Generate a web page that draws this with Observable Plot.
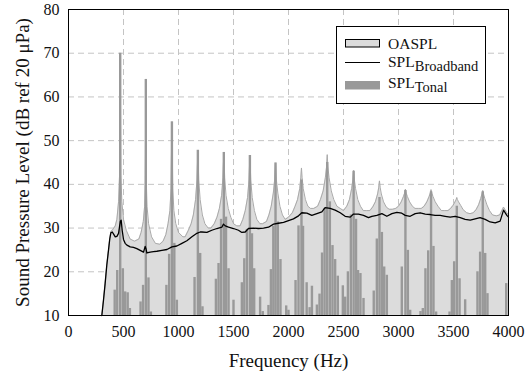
<!DOCTYPE html>
<html><head><meta charset="utf-8">
<script src="https://cdn.jsdelivr.net/npm/d3@7"></script>
<script src="https://cdn.jsdelivr.net/npm/@observablehq/plot@0.6"></script>
<style>body{margin:0;background:#fff} #chart{width:532px;height:377px}</style>
</head><body><div id="chart"></div>
<script>
const xTicks = [0, 500, 1000, 1500, 2000, 2500, 3000, 3500, 4000];
const yTicks = [10, 20, 30, 40, 50, 60, 70, 80];
const xGrid = [500, 1000, 1500, 2000, 2500, 3000, 3500];
const yGrid = [20, 30, 40, 50, 60, 70];

const broadbandFreq = [303,318,333,348,364,375,385,398,410,425,440,455,465,472,479,488,500,515,531,561,591,621,652,682,697,705,713,743,773,803,849,895,940,985,1031,1076,1122,1167,1197,1213,1258,1303,1349,1394,1409,1425,1455,1500,1545,1576,1606,1636,1682,1727,1773,1818,1864,1909,1955,2000,2045,2091,2121,2167,2212,2258,2303,2333,2379,2424,2470,2515,2561,2591,2636,2682,2727,2758,2803,2849,2894,2940,2985,3030,3061,3106,3152,3197,3243,3288,3333,3379,3424,3470,3515,3561,3606,3652,3697,3742,3788,3833,3879,3924,3955,3985,4000];
const broadbandLevel = [10,13.5,17.3,21.5,25,27.5,28.9,29.1,28.6,28.0,28.1,28.8,30.5,31.6,31.8,29.5,27.4,26.5,26.1,25.7,25.6,25.3,24.9,24.5,25.8,25.2,24.3,24.5,24.6,24.7,24.9,25.1,25.7,25.9,26.5,27.1,28,28.8,29.1,29.1,29,29.5,29.9,30.2,30.9,30.5,30.2,29.9,29.5,29,29.1,29.9,30,29.9,30,30.2,30.9,31.1,31.3,31.7,32.1,32.8,33.5,33.4,32.9,33.3,33.7,34.7,34.5,34.1,33.5,32.7,32.5,33.2,33.2,32.9,32.4,32.7,32.9,33.3,32.7,33.3,33.6,33.4,32.9,32.7,33.3,33.5,33.2,33.1,32.9,32.9,32.7,32.5,32.7,32.4,32,31.8,32.1,32.4,32,31.4,31.2,31.6,34.1,32.9,32.5];

const oasplFreq = [303,318,333,348,364,375,385,400,425,440,455,464,470,476,485,500,525,560,600,640,660,680,692,698,703,708,714,728,755,790,830,860,885,905,922,932,940,948,958,975,1000,1040,1060,1090,1115,1135,1155,1168,1176,1184,1197,1217,1240,1270,1295,1325,1350,1372,1392,1404,1412,1420,1432,1452,1475,1500,1530,1560,1585,1607,1628,1641,1649,1657,1670,1690,1712,1740,1765,1800,1822,1843,1862,1874,1882,1890,1903,1922,1945,1970,2000,2035,2060,2082,2102,2112,2118,2124,2134,2154,2176,2200,2230,2265,2290,2315,2335,2346,2352,2358,2369,2389,2412,2440,2470,2500,2530,2554,2574,2585,2592,2599,2610,2630,2654,2680,2710,2740,2765,2790,2810,2820,2827,2834,2844,2864,2889,2915,2945,2975,3000,3025,3045,3056,3063,3070,3081,3101,3126,3150,3180,3208,3233,3258,3278,3289,3296,3303,3314,3334,3359,3390,3420,3450,3474,3496,3514,3524,3530,3536,3546,3565,3588,3620,3650,3680,3705,3728,3748,3759,3766,3773,3784,3804,3827,3855,3890,3920,3955,3985,4000];
const oasplLevel = [10,13.5,17.3,21.5,25,27.6,29.2,29.6,30.5,32,36,42,70,42,36,32,29.5,27.5,27,27.5,29,31.5,35,40,64,40,35,31,28,26.5,26.3,27,28.5,31,34,39,54.3,39,34,31,29,28,28,29.5,31,33,36.5,41,47.8,41,36.5,33,31,30,30,31,32.5,34.5,37.5,41.5,47.3,41.5,37.5,34.5,32.5,31,30.5,30.5,32,34,37,41,46.6,41,37,34,32,31,31,31.5,33,35,38,41,44.9,41,38,35,33,32,32.5,33.5,35,36.5,39,41.5,43.75,41.5,39,36.5,35,34.5,34.5,35,36.5,38.5,41.5,44,46.8,44,41.5,38.5,36.5,35,34.5,34,35,36.5,39,41,43.2,41,39,36.5,35,34,34,34,34.8,36,37.8,39.2,40.8,39.2,37.8,36,34.8,34.3,34.3,34.5,35,36,37.2,38,38.9,38,37.2,36,35,34.5,34.5,34.5,35,36,37.2,38,38.8,38,37.2,36,35,34,34,34,34.5,35.2,36,36.5,37,36.5,36,35.2,34.2,33.5,33.3,33.5,34.2,35.3,36.8,37.8,38.6,37.8,36.8,35.3,34,33,32.8,33,34.8,33.5,33];

const tonalFreq = [420,443,470,494,515,538,558, 655,678,703,727,749, 890,915,940,962,985, 1146,1176,1197,1218, 1340,1364,1387,1412,1432,1455,1500, 1576,1598,1622,1649,1668,1688,1742,1766, 1818,1840,1862,1882,1903,1927,1979,2000, 2064,2091,2118,2132,2165,2192,2213, 2258,2282,2305,2328,2352,2376,2400,2424,2448,2494,2515, 2540,2567,2592,2614,2632,2654,2682, 2775,2803,2827,2849,2870,2894, 3030,3063,3085,3106, 3200,3221,3245,3270,3296,3318,3342, 3464,3485,3506,3530,3555,3606, 3718,3742,3766,3788,3809, 3979];
const tonalLevel = [15.8,20.3,70,20.7,15.4,15.2,11.6, 13.1,16.9,64,18.6,10.8, 16.9,24,54.3,26.5,13.5, 18.7,47.8,24.2,12, 18.3,21.9,32,47.3,32.5,20.7,13.5, 17.5,23,29.7,46.6,28.7,20.7,14.2,10.9, 12.3,20.5,30.4,44.9,31.4,22.8,12.2,11.2, 18,30.5,41,30.4,17.5,11.8,16.7, 12.4,14.9,24.3,34.5,45,36,26,22.8,19,16.8,14.2, 20,33,43,32,20.3,19.6,13.9, 15.6,27.5,37,29,21.1,19.2, 21.1,38.6,24.9,11.2, 10.9,11.6,20.7,24.8,38.3,25.8,10.8, 10.8,18,22.3,35,18.4,13.6, 20,24.5,38.3,24.2,15, 17.3];

const broadband = broadbandFreq.map((f, i) => ({f, v: broadbandLevel[i]}));
const oaspl = oasplFreq.map((f, i) => ({f, v: oasplLevel[i]}));
const tonal = tonalFreq.map((f, i) => ({f, v: tonalLevel[i]}));

const font = "'Liberation Serif', 'Times New Roman', serif";
const plot = Plot.plot({
  width: 532, height: 377,
  marginLeft: 68, marginRight: 24, marginTop: 9, marginBottom: 62,
  style: {fontFamily: font, fontSize: "16px", color: "#111", background: "#fff"},
  x: {domain: [0, 4000]},
  y: {domain: [10, 80]},
  marks: [
    Plot.gridX(xGrid, {stroke: "#c4c4c4", strokeOpacity: 1, strokeDasharray: "6,4"}),
    Plot.gridY(yGrid, {stroke: "#c4c4c4", strokeOpacity: 1, strokeDasharray: "6,4"}),
    Plot.areaY(oaspl, {x: "f", y1: 10, y2: "v", fill: "#dcdcdc"}),
    Plot.lineY(oaspl, {x: "f", y: "v", stroke: "#a9a9a9", strokeWidth: 1}),
    Plot.ruleX(tonal, {x: "f", y1: 10, y2: "v", stroke: "#999", strokeWidth: 2.4}),
    Plot.lineY(broadband, {x: "f", y: "v", stroke: "#000", strokeWidth: 1.3}),
    Plot.frame({stroke: "#000", strokeWidth: 1}),
    Plot.axisX({ticks: xTicks, tickSize: 0, tickPadding: 10, tickFormat: d => String(d), label: null, fontFamily: font, fontSize: 16}),
    Plot.axisY({ticks: yTicks, tickSize: 0, tickPadding: 9, tickFormat: d => String(d), label: null, fontFamily: font, fontSize: 16}),
    Plot.text(["Frequency (Hz)"], {text: d => d, frameAnchor: "bottom", textAnchor: "middle", dy: 51, fontSize: 19, fontFamily: font}),
    Plot.text(["Sound Pressure Level (dB ref 20 μPa)"], {text: d => d, frameAnchor: "left", textAnchor: "middle", dx: -46, rotate: -90, fontSize: 19, fontFamily: font})
  ]
});
document.getElementById("chart").appendChild(plot);

// legend
const svg = d3.select(plot);
const lg = svg.append("g").attr("font-family", font).attr("font-size", 15.5).attr("fill", "#111").attr("text-anchor", "start");
lg.append("rect").attr("x", 336.5).attr("y", 26.5).attr("width", 149).attr("height", 77).attr("fill", "#fff").attr("stroke", "#000");
lg.append("rect").attr("x", 345.5).attr("y", 39.5).attr("width", 34).attr("height", 7.5).attr("fill", "#dcdcdc").attr("stroke", "#000");
lg.append("text").attr("x", 388).attr("y", 49).text("OASPL");
lg.append("line").attr("x1", 345).attr("x2", 380).attr("y1", 62.5).attr("y2", 62.5).attr("stroke", "#000").attr("stroke-width", 1.2);
const t2 = lg.append("text").attr("x", 388).attr("y", 66.5);
t2.append("tspan").text("SPL");
t2.append("tspan").attr("dy", 4.5).attr("font-size", 14.5).text("Broadband");
lg.append("rect").attr("x", 345).attr("y", 81).attr("width", 35).attr("height", 8.5).attr("fill", "#999");
const t3 = lg.append("text").attr("x", 388).attr("y", 87.5);
t3.append("tspan").text("SPL");
t3.append("tspan").attr("dy", 4.5).attr("font-size", 14.5).text("Tonal");
</script></body></html>
